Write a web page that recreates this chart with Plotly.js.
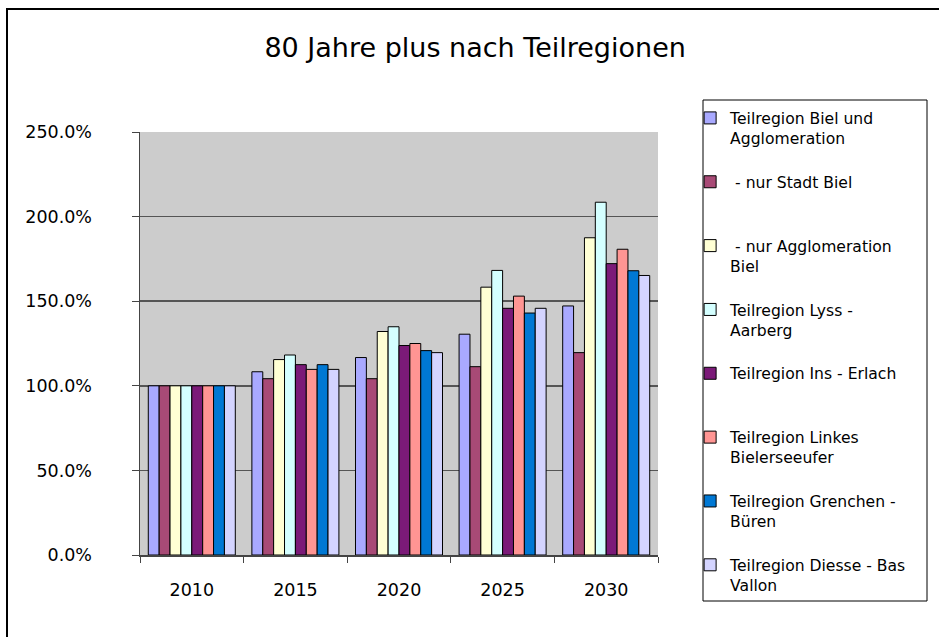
<!DOCTYPE html>
<html>
<head>
<meta charset="utf-8">
<script src="https://cdn.plot.ly/plotly-3.0.1.min.js"></script>
<style>
  body { margin: 0; background: #fff; }
  #chart { width: 939px; height: 637px; }
</style>
</head>
<body>
<div id="chart"></div>
<script>
// years on the x axis
const years = ['2010', '2015', '2020', '2025', '2030'];

// index 2010 = 100%
const bielAgglo  = [100, 108.3, 116.7, 130.5, 147.2];
const stadtBiel  = [100, 104.2, 104.2, 111.3, 119.6];
const nurAgglo   = [100, 115.5, 132.1, 158.3, 187.5];
const lyss       = [100, 118.2, 134.9, 168.2, 208.5];
const insErlach  = [100, 112.5, 123.8, 145.8, 172.2];
const linkes     = [100, 109.7, 125.0, 153.0, 180.7];
const grenchen   = [100, 112.5, 120.8, 143.0, 168.0];
const diesse     = [100, 109.7, 119.6, 145.8, 165.2];

const seriesNames = [
    'Teilregion Biel und<br>Agglomeration',
    ' - nur Stadt Biel<br>&nbsp;',
    ' - nur Agglomeration<br>Biel',
    'Teilregion Lyss -<br>Aarberg',
    'Teilregion Ins - Erlach<br>&nbsp;',
    'Teilregion Linkes<br>Bielerseeufer',
    'Teilregion Grenchen -<br>Büren',
    'Teilregion Diesse - Bas<br>Vallon'
];
const seriesValues = [bielAgglo, stadtBiel, nurAgglo, lyss, insErlach, linkes, grenchen, diesse];
const seriesColors = ['#A9A9FF', '#A84A76', '#FFFFD4', '#D4FFFF', '#7B1A78', '#FF9593', '#0078D4', '#D4D4FF'];

const FONT = 'DejaVu Sans, sans-serif';

// blank first line so the marker sits next to the first text line
const data = seriesNames.map((name, i) => ({
    type: 'bar',
    x: years,
    y: seriesValues[i],
    name: '&nbsp;<br>' + name,
    marker: { color: seriesColors[i], line: { color: '#000', width: 1 } },
    hoverinfo: 'skip'
}));

const layout = {
    width: 939,
    height: 637,
    margin: { l: 140, r: 281, t: 132, b: 82, autoexpand: false },
    paper_bgcolor: '#fff',
    plot_bgcolor: '#CCCCCC',
    font: { family: FONT, size: 16, color: '#000' },
    title: {
        text: '80 Jahre plus nach Teilregionen',
        font: { family: FONT, size: 27, color: '#000' },
        x: 0.506, xref: 'container', xanchor: 'center',
        y: 0.925, yanchor: 'middle'
    },
    barmode: 'group',
    bargap: 0.16,
    bargroupgap: 0,
    xaxis: {
        type: 'category',
        showline: true, linecolor: '#444', linewidth: 1.5,
        ticks: 'outside', tickson: 'boundaries', ticklen: 6, tickcolor: '#444',
        tickfont: { family: FONT, size: 17.5 },
        ticklabelstandoff: 18,
        showgrid: false
    },
    yaxis: {
        range: [0, 250], dtick: 50,
        tickformat: '.1f', ticksuffix: '%',
        showline: true, linecolor: '#444', linewidth: 1.5,
        ticks: 'outside', ticklen: 7, tickcolor: '#444',
        tickfont: { family: FONT, size: 17.5 },
        ticklabelstandoff: 36,
        gridcolor: '#555', gridwidth: 1.5,
        zeroline: false
    },
    legend: {
        x: 1.062, xanchor: 'left',
        yref: 'container',
        y: 1 - 81 / 637, yanchor: 'top',
        maxheight: 600,
        borderwidth: 0,
        bgcolor: 'rgba(0,0,0,0)',
        itemwidth: 30,
        traceorder: 'normal',
        font: { family: FONT, size: 15.6 }
    },
    shapes: [
        {   // outer chart frame
            type: 'rect', xref: 'paper', yref: 'paper',
            x0: (7 - 140) / 518, x1: 1.7,
            y0: -0.3, y1: (555 - 9) / 423,
            line: { color: '#000', width: 2 },
            layer: 'below'
        },
        {   // legend frame
            type: 'rect', xref: 'paper', yref: 'paper',
            x0: (703 - 140) / 518, x1: (927 - 140) / 518,
            y0: (555 - 601) / 423, y1: (555 - 100) / 423,
            line: { color: '#000', width: 1 },
            fillcolor: '#fff',
            layer: 'below'
        }
    ]
};

Plotly.newPlot('chart', data, layout, { displayModeBar: false, staticPlot: true });
</script>
</body>
</html>
